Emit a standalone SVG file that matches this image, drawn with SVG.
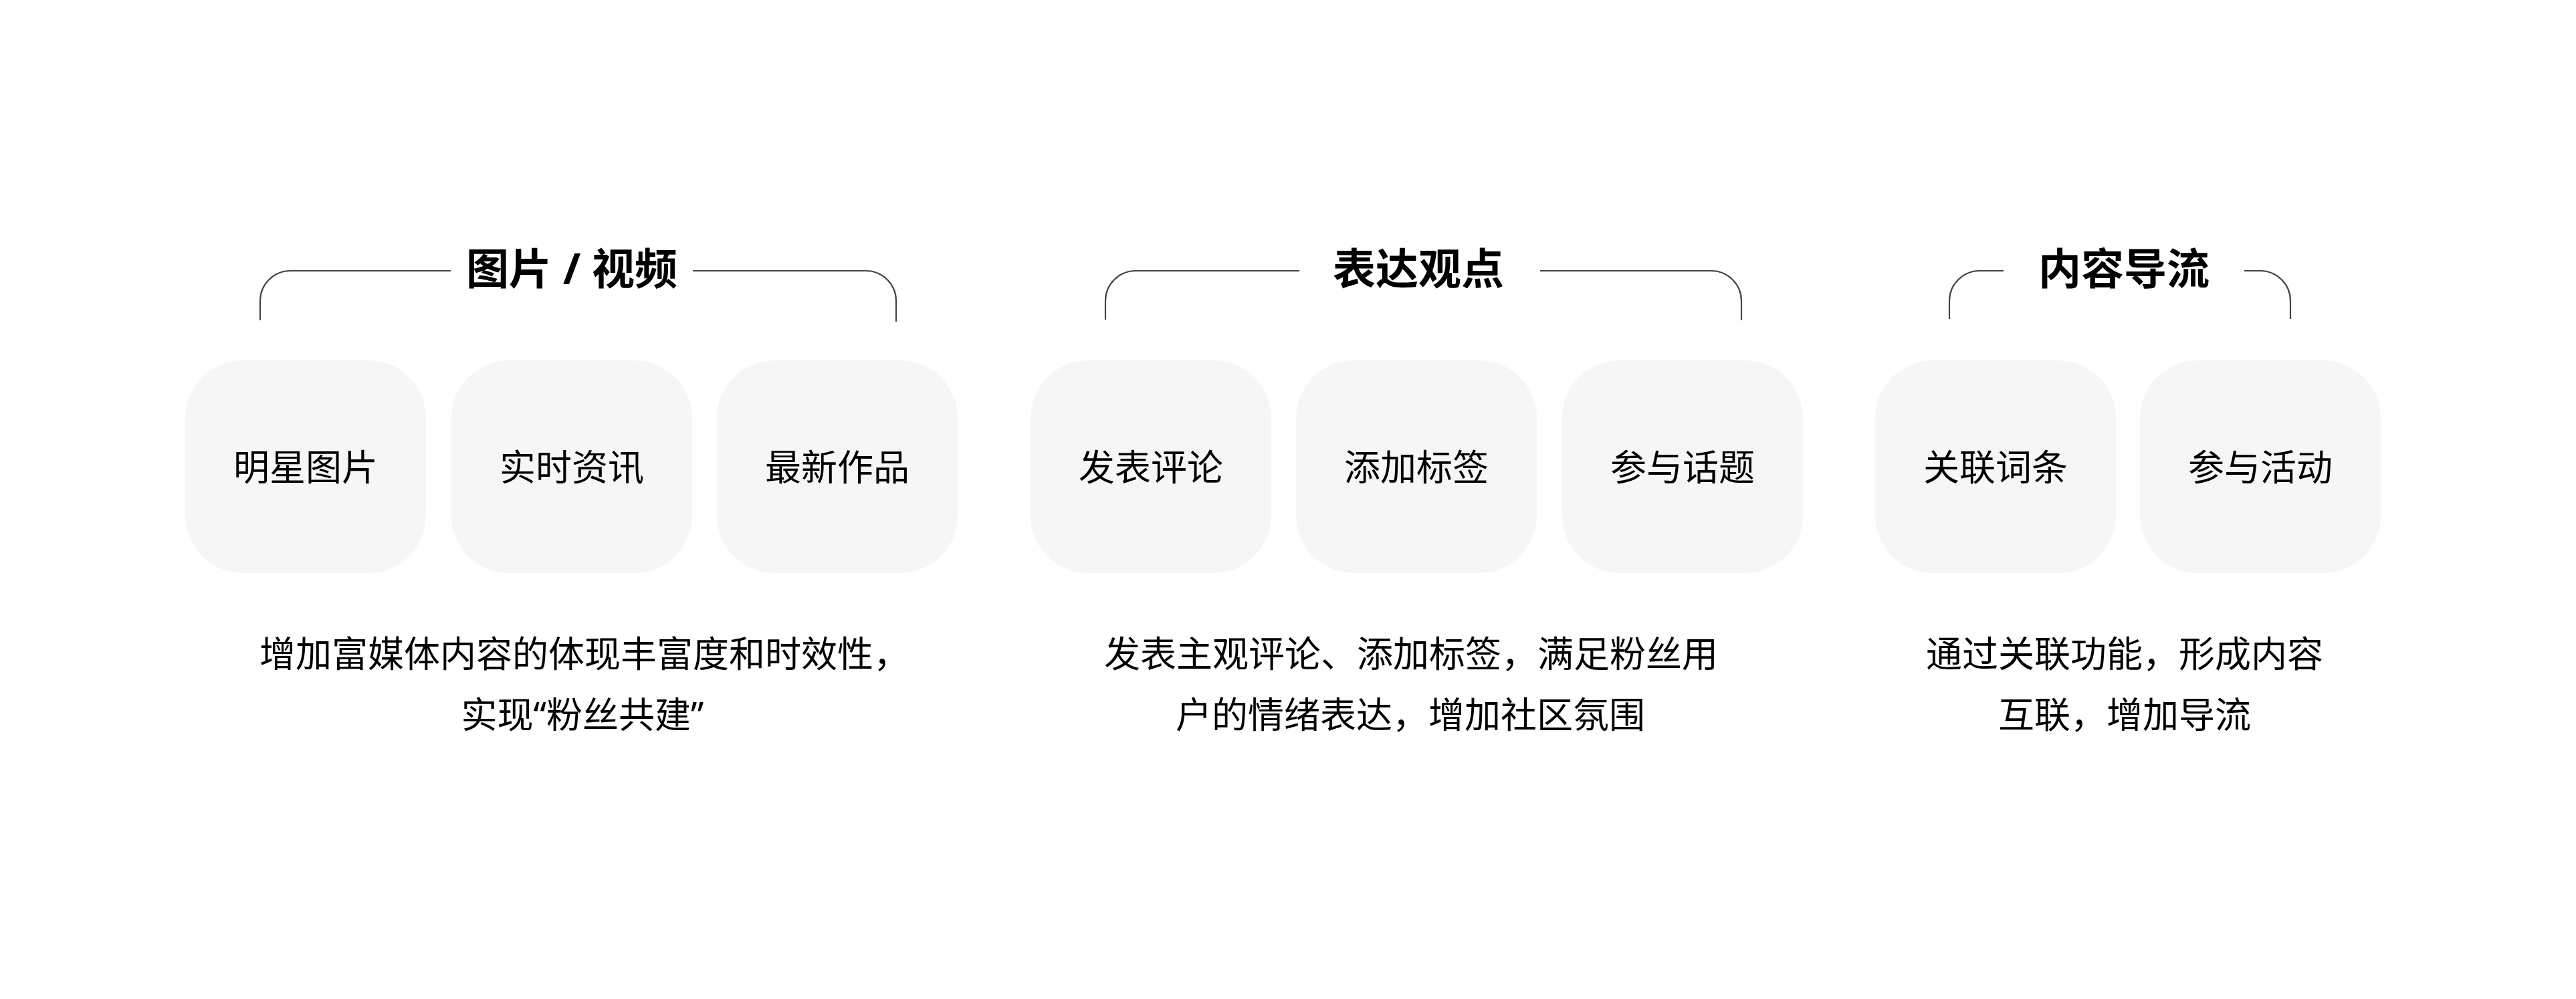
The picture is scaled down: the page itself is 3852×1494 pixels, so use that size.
<svg xmlns="http://www.w3.org/2000/svg" width="3852" height="1494" viewBox="0 0 3852 1494">
<style>
.bg{fill:#ffffff}
.box{fill:#f6f6f6}
.lbl{font-family:"Noto Sans CJK SC","Noto Sans",sans-serif;font-size:54px;fill:#000;text-anchor:middle}
.ttl{font-family:"Noto Sans","Noto Sans CJK SC",sans-serif;font-size:64px;font-weight:700;fill:#000;text-anchor:middle}
.desc{font-family:"Noto Sans","Noto Sans CJK SC",sans-serif;font-size:54px;fill:#000;text-anchor:middle}
.br{fill:none;stroke:#444;stroke-width:2.2}
</style>
<rect class="bg" x="0" y="0" width="3852" height="1494"/>
<g id="connectors">
<path class="br" d="M389 479 V450 A45 45 0 0 1 434 405 H674"/>
<path class="br" d="M1036 405 H1295 A45 45 0 0 1 1340 450 V481"/>
<path class="br" d="M1653 478 V450 A45 45 0 0 1 1698 405 H1943"/>
<path class="br" d="M2303 405 H2559 A45 45 0 0 1 2604 450 V479"/>
<path class="br" d="M2915 477 V450 A45 45 0 0 1 2960 405 H2996"/>
<path class="br" d="M3356 405 H3380 A45 45 0 0 1 3425 450 V477"/>
</g>
<g id="title-1"><text class="ttl" x="855" y="425">图片 / 视频</text></g>
<g id="title-2"><text class="ttl" x="2121" y="425">表达观点</text></g>
<g id="title-3"><text class="ttl" x="3176" y="425">内容导流</text></g>
<g id="node-1"><rect class="box" x="277" y="539" width="360" height="318" rx="86" ry="86"/><text class="lbl" x="457" y="719">明星图片</text></g>
<g id="node-2"><rect class="box" x="675" y="539" width="360" height="318" rx="86" ry="86"/><text class="lbl" x="855" y="719">实时资讯</text></g>
<g id="node-3"><rect class="box" x="1072" y="539" width="360" height="318" rx="86" ry="86"/><text class="lbl" x="1252" y="719">最新作品</text></g>
<g id="node-4"><rect class="box" x="1541" y="539" width="360" height="318" rx="86" ry="86"/><text class="lbl" x="1721" y="719">发表评论</text></g>
<g id="node-5"><rect class="box" x="1938" y="539" width="360" height="318" rx="86" ry="86"/><text class="lbl" x="2118" y="719">添加标签</text></g>
<g id="node-6"><rect class="box" x="2336" y="539" width="360" height="318" rx="86" ry="86"/><text class="lbl" x="2516" y="719">参与话题</text></g>
<g id="node-7"><rect class="box" x="2804" y="539" width="360" height="318" rx="86" ry="86"/><text class="lbl" x="2984" y="719">关联词条</text></g>
<g id="node-8"><rect class="box" x="3200" y="539" width="360" height="318" rx="86" ry="86"/><text class="lbl" x="3380" y="719">参与活动</text></g>
<g id="desc-1">
<text class="desc" x="874" y="998">增加富媒体内容的体现丰富度和时效性，</text>
<text class="desc" x="871" y="1089">实现“粉丝共建”</text>
</g>
<g id="desc-2">
<text class="desc" x="2110" y="998">发表主观评论、添加标签，满足粉丝用</text>
<text class="desc" x="2109" y="1089">户的情绪表达，增加社区氛围</text>
</g>
<g id="desc-3">
<text class="desc" x="3177" y="998">通过关联功能，形成内容</text>
<text class="desc" x="3177" y="1089">互联，增加导流</text>
</g>
</svg>
